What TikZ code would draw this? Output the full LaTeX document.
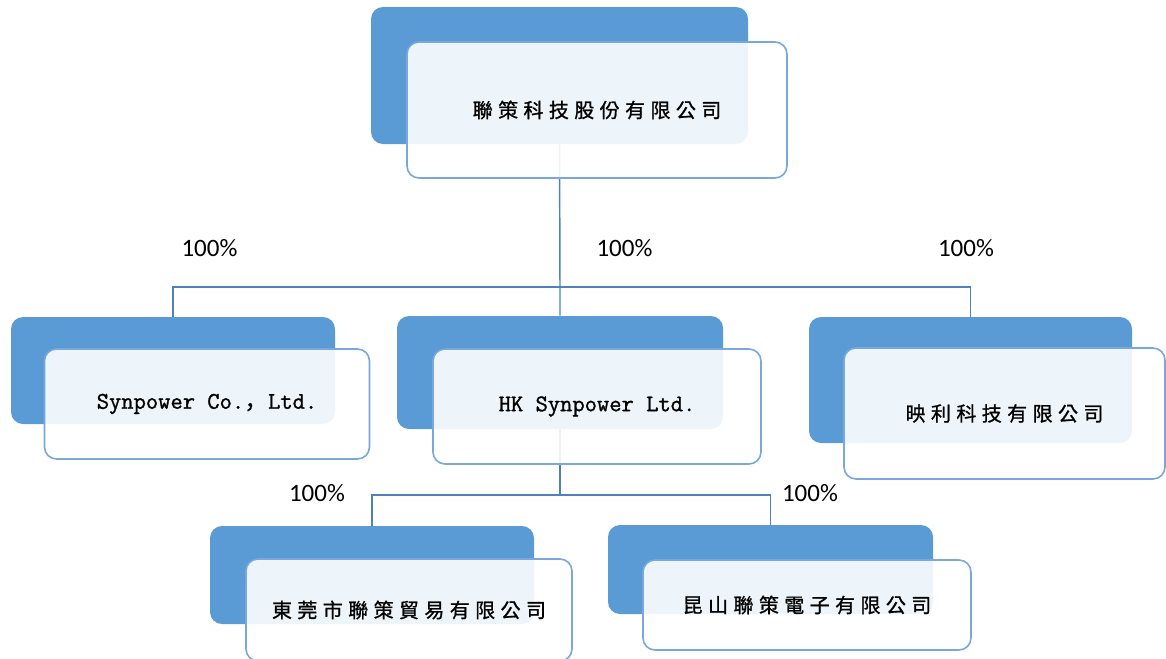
\documentclass[tikz,border=0pt]{standalone}
\usepackage{fontspec}
\setsansfont{Carlito}
\setmonofont{Latin Modern Mono}[FakeBold=1.2]
\newfontfamily\cjk{Noto Sans CJK TC}[LetterSpace=27,FakeBold=1]
\newfontfamily\cjkmark{Noto Sans CJK SC}[FakeBold=1]
\definecolor{backblue}{HTML}{5B9BD5}
\definecolor{rimblue}{HTML}{7AA7DC}
\definecolor{linkblue}{HTML}{4F81BD}

\begin{document}
\begin{tikzpicture}[x=0.75pt,y=-0.75pt,
  back/.style={rectangle,rounded corners=9pt,fill=backblue,inner sep=0pt},
  front/.style={rectangle,rounded corners=9pt,draw=rimblue,line width=1.2pt,fill=white,fill opacity=0.9,text opacity=1,inner sep=0pt,font=\cjk\fontsize{15}{18}\selectfont},
  latin/.style={font=\ttfamily\fontsize{17.9}{20}\selectfont},
  link/.style={draw=linkblue,line width=1.1pt},
  pct/.style={font=\sffamily\fontsize{18.75}{22}\selectfont}]
\useasboundingbox (0,0) rectangle (1166,658);

\node[back,minimum width=282.75pt,minimum height=102.75pt] (top) at (559.5,75.5) {};
\node[back,minimum width=243pt,minimum height=80.25pt] (synpower) at (173,370.5) {};
\node[back,minimum width=244.5pt,minimum height=84.75pt] (hk) at (560,372.5) {};
\node[back,minimum width=242.25pt,minimum height=94.5pt] (yingli) at (970.5,380) {};
\node[back,minimum width=243pt,minimum height=73.5pt] (dongguan) at (372,575) {};
\node[back,minimum width=243.75pt,minimum height=66.75pt] (kunshan) at (770.5,569.5) {};

\coordinate (bus1) at (560,287);
\coordinate (bus2) at (560,495);
\draw[link] (top.south)--(bus1)--(hk.north);
\draw[link] (bus1)-|(synpower.north);
\draw[link] (bus1)-|(yingli.north);
\draw[link] (hk.south)--(bus2);
\draw[link] (bus2)-|(dongguan.north);
\draw[link] (bus2)-|(kunshan.north);

\node[front,minimum width=285pt,minimum height=102pt] (topf) at (597,110) {聯策科技股份有限公司};
\node[front,latin,minimum width=243.75pt,minimum height=82.5pt] (synpowerf) at (207,404) {Synpower Co.{\cjkmark，}Ltd.};
\node[front,latin,minimum width=246pt,minimum height=86.25pt] (hkf) at (597,406.5) {HK Synpower Ltd.};
\node[front,minimum width=240.75pt,minimum height=98.25pt] (yinglif) at (1004.5,413.5) {映利科技有限公司};
\node[front,minimum width=244.5pt,minimum height=76.5pt] (dongguanf) at (409,610) {東莞市聯策貿易有限公司};
\node[front,minimum width=246pt,minimum height=67.5pt] (kunshanf) at (807,605) {昆山聯策電子有限公司};

\node[pct] (p1) at (209.5,248) {100\%};
\node[pct] (p2) at (624.5,248) {100\%};
\node[pct] (p3) at (966,248) {100\%};
\node[pct] (p4) at (317,493.5) {100\%};
\node[pct] (p5) at (810,493.5) {100\%};
\end{tikzpicture}
\end{document}
